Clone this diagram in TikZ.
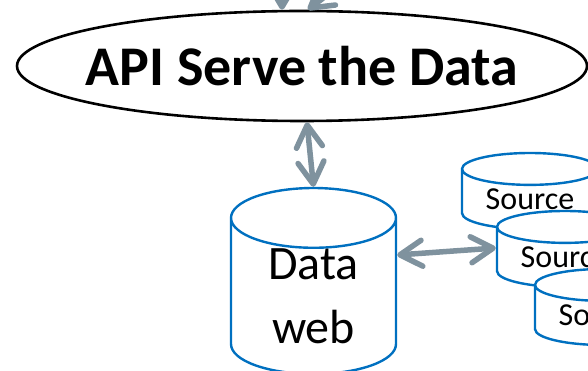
\documentclass[tikz,border=0pt]{standalone}
\usepackage{fontspec}
\setmainfont{Carlito}
\usetikzlibrary{shapes.geometric, arrows.meta}

\definecolor{dbblue}{RGB}{0,112,192}
\definecolor{linkgray}{RGB}{127,146,158}

\begin{document}
\begin{tikzpicture}[
  x=1pt, y=-1pt,
  >={Straight Barb[round, length=22pt, width=26pt]},
  api/.style={ellipse, draw, line width=2.6pt, minimum width=570pt, minimum height=110pt, inner xsep=-20pt, inner ysep=0pt, font=\fontsize{56}{60}\selectfont\bfseries},
  store/.style={cylinder, shape border rotate=90, draw=dbblue, line width=2.4pt, fill=white, inner sep=0pt, anchor=shape center},
  bigstore/.style={store, minimum width=165pt, minimum height=182pt, aspect=0.66, align=center, font=\fontsize{48}{64}\selectfont},
  smallstore/.style={store, minimum width=136pt, minimum height=76pt, aspect=0.36, font=\fontsize{32}{36}\selectfont},
  link/.style={<->, line width=5.5pt, draw=linkgray},
  inlink/.style={->, line width=5.5pt, draw=linkgray}
]
\useasboundingbox (0,0) rectangle (588,371);

\node[api] (api) at (302,66) {API Serve the Data};

\node[bigstore] (data) at (313.5,281) {Data\\web};

\node[smallstore] (src1) at (530,191) {Source};
\node[smallstore] (src2) at (565,249) {Source};
\node[smallstore] (src3) at (603,307) {Source};

% feeds coming in from above
\coordinate (feedA) at (282,-45);
\coordinate (feedB) at (352,-24);
\draw[inlink] (feedA) -- (feedA |- api.north);
\draw[inlink] (feedB) -- (api.84);

\draw[link] (api.-85) -- (data.north);
\draw[link] ([yshift=-6pt]src2.shape center -| data.east) -- ([yshift=1pt]src2.shape center -| src2.west);

\end{tikzpicture}
\end{document}
